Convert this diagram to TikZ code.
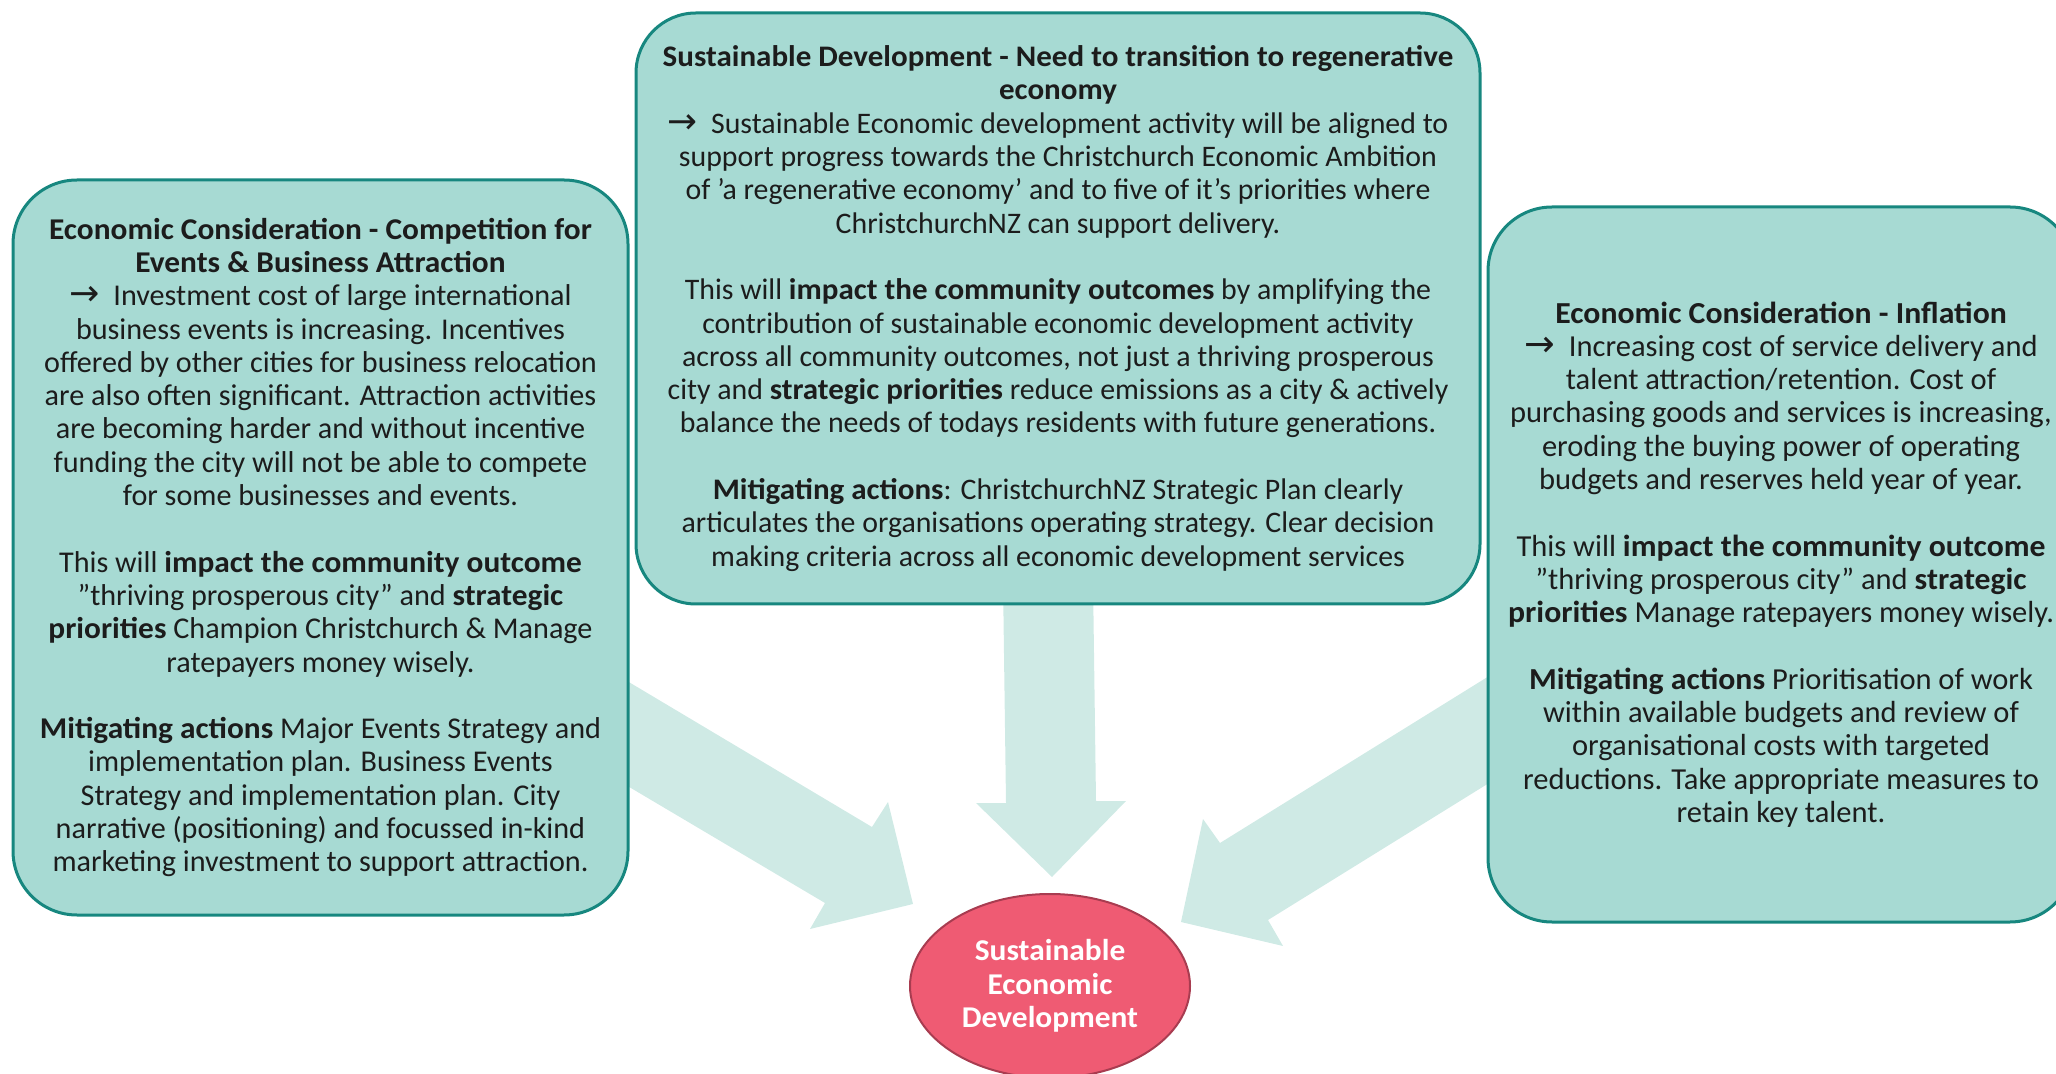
\documentclass[tikz,border=0pt]{standalone}
\usepackage{fontspec}
\setmainfont{Carlito}[BoldFeatures={FakeStretch=1.04}]
\newfontfamily\arrowfont{DejaVu Sans}[Scale=1.2]
\usetikzlibrary{shapes.geometric}
\definecolor{boxfill}{HTML}{A7DAD3}
\definecolor{boxline}{HTML}{17877F}
\definecolor{arrowfill}{HTML}{CFEAE5}
\definecolor{ellfill}{HTML}{EF5B73}
\definecolor{ellline}{HTML}{A83C50}
\definecolor{txt}{HTML}{1C1C1C}
\newcommand{\myarrow}{{\arrowfont\char"2192}\ \ }
\newcommand{\dq}{\char"22\relax}
\newcommand{\sq}{\char"27\relax}
\begin{document}
\begin{tikzpicture}[x=0.5pt,y=-0.5pt,
  box/.style={draw=boxline, line width=1.5pt, fill=boxfill, align=center,
    text=txt, inner sep=0pt},
  blockarrow/.style={fill=arrowfill}]
\path[use as bounding box] (0,0) rectangle (2056,1074);
% block arrows (behind the boxes)
\fill[blockarrow] (560,641) -- (872,827) -- (888,802) -- (913,904) -- (810,929) -- (825,903) -- (560,746) -- cycle;
\fill[blockarrow] (1003,580) -- (1006,803) -- (976,803) -- (1052,877) -- (1126,801) -- (1096,801) -- (1093,580) -- cycle;
\fill[blockarrow] (1560,632) -- (1220,843) -- (1203,819) -- (1181,922) -- (1283,946) -- (1268,920) -- (1560,739) -- cycle;
% boxes
\node[box, rounded corners=32pt, minimum width=307.5pt, minimum height=367.5pt,
  font=\fontsize{15.08}{16.65}\selectfont] (left) at (320.5,547.5)
{\textbf{Economic Consideration - Competition for}\\
\textbf{Events \& Business Attraction}\\
\myarrow Investment cost of large international\\
business events is increasing. Incentives\\
offered by other cities for business relocation\\
are also often significant. Attraction activities\\
are becoming harder and without incentive\\
funding the city will not be able to compete\\
for some businesses and events.\\[16.65pt]
This will \textbf{impact the community outcome}\\
\dq thriving prosperous city\dq{} and \textbf{strategic}\\
\textbf{priorities} Champion Christchurch \& Manage\\
ratepayers money wisely.\\[16.65pt]
\textbf{Mitigating actions} Major Events Strategy and\\
implementation plan. Business Events\\
Strategy and implementation plan. City\\
narrative (positioning) and focussed in-kind\\
marketing investment to support attraction.};
\node[box, rounded corners=30pt, minimum width=422pt, minimum height=295.5pt,
  font=\fontsize{14.92}{16.65}\selectfont] (centre) at (1058,308.5)
{\textbf{Sustainable Development - Need to transition to regenerative}\\
\textbf{economy}\\
\myarrow Sustainable Economic development activity will be aligned to\\
support progress towards the Christchurch Economic Ambition\\
of \sq a regenerative economy\sq{} and to five of it\sq s priorities where\\
ChristchurchNZ can support delivery.\\[16.65pt]
This will \textbf{impact the community outcomes} by amplifying the\\
contribution of sustainable economic development activity\\
across all community outcomes, not just a thriving prosperous\\
city and \textbf{strategic priorities} reduce emissions as a city \& actively\\
balance the needs of todays residents with future generations.\\[16.65pt]
\textbf{Mitigating actions}: ChristchurchNZ Strategic Plan clearly\\
articulates the organisations operating strategy. Clear decision\\
making criteria across all economic development services};
\node[box, rounded corners=32pt, minimum width=293pt, minimum height=357.5pt,
  font=\fontsize{15.26}{16.65}\selectfont] (right) at (1781,564.5)
{\textbf{Economic Consideration - Inflation}\\
\myarrow Increasing cost of service delivery and\\
talent attraction/retention. Cost of\\
purchasing goods and services is increasing,\\
eroding the buying power of operating\\
budgets and reserves held year of year.\\[16.65pt]
This will \textbf{impact the community outcome}\\
\dq thriving prosperous city\dq{} and \textbf{strategic}\\
\textbf{priorities} Manage ratepayers money wisely.\\[16.65pt]
\textbf{Mitigating actions} Prioritisation of work\\
within available budgets and review of\\
organisational costs with targeted\\
reductions. Take appropriate measures to\\
retain key talent.};
% goal
\node[ellipse, draw=ellline, line width=1pt, fill=ellfill, minimum width=140pt, minimum height=92pt,
  inner sep=0pt, text=white, align=center, font=\fontsize{15.1}{16.65}\selectfont\bfseries] (goal) at (1050,986)
{Sustainable\\Economic\\Development};
\end{tikzpicture}
\end{document}
